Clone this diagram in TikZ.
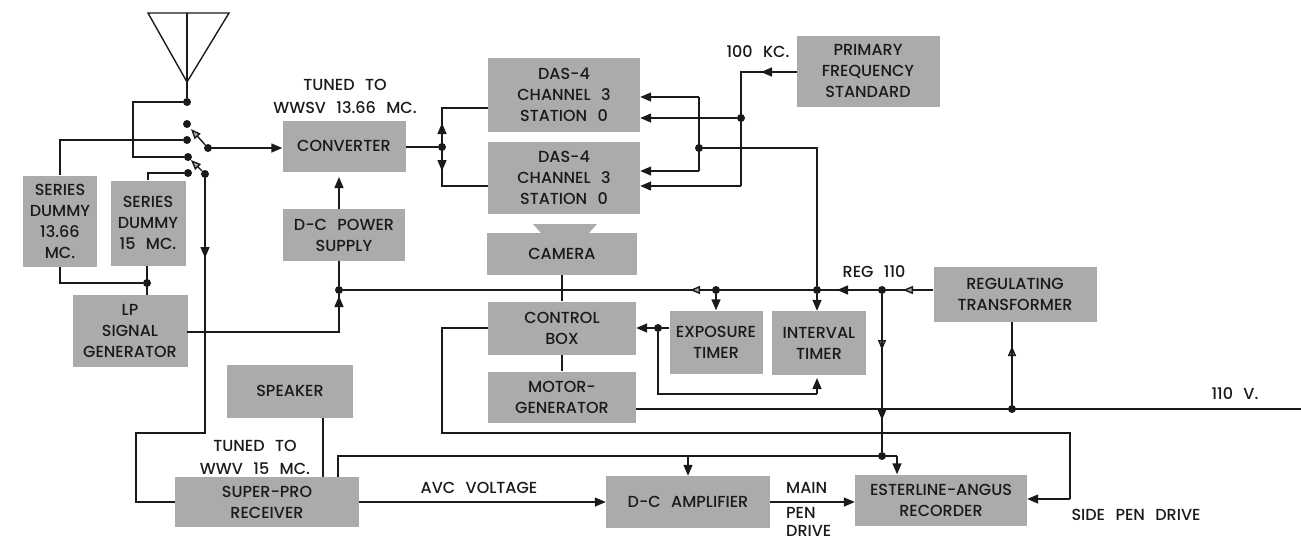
\documentclass[tikz,border=0pt]{standalone}
\usepackage{fontspec}
\setmainfont{Poppins Medium}[WordSpace=2.5]
\usetikzlibrary{arrows.meta,positioning,calc}
\definecolor{boxgray}{HTML}{ABABAB}
\definecolor{inkblack}{HTML}{1A1A1A}
\tikzset{
  blockbox/.style={fill=boxgray,inner sep=0pt,align=center,text=inkblack,font=\fontsize{16}{21}\selectfont},
  lbl/.style={inner sep=0pt,align=center,text=inkblack,font=\fontsize{16}{23}\selectfont},
  jdot/.style={circle,fill=inkblack,inner sep=0pt,minimum size=8pt},
  wire/.style={draw=inkblack,line width=1.4pt},
  tip/.style={wire,-{Triangle[length=11pt,width=9pt]}},
  opentip/.style={wire,-{Triangle[length=10pt,width=8pt,fill=boxgray]}}
}
\begin{document}
\begin{tikzpicture}[x=1pt,y=-1pt]
  \useasboundingbox (0,0) rectangle (1301,542);
  % boxes
  \node[blockbox,minimum width=74pt,minimum height=91pt] (dum13) at (60,221) {SERIES\\DUMMY\\13.66\\MC.};
  \node[blockbox,minimum width=75pt,minimum height=85pt] (dum15) at (148,223) {SERIES\\DUMMY\\15 MC.};
  \node[blockbox,minimum width=115pt,minimum height=72pt] (lpgen) at (130,331) {LP\\SIGNAL\\GENERATOR};
  \node[blockbox,minimum width=123pt,minimum height=51pt] (conv) at (344,146) {CONVERTER};
  \node[blockbox,minimum width=122pt,minimum height=52pt] (power) at (344,235) {D-C POWER\\SUPPLY};
  \node[blockbox,minimum width=152pt,minimum height=74pt] (das1) at (564,95) {DAS-4\\CHANNEL 3\\STATION 0};
  \node[blockbox,minimum width=152pt,minimum height=72pt] (das2) at (564,178) {DAS-4\\CHANNEL 3\\STATION 0};
  \node[blockbox,minimum width=150pt,minimum height=42pt] (cam) at (562,254) {CAMERA};
  \node[blockbox,minimum width=143pt,minimum height=71pt] (std) at (868,71) {PRIMARY\\FREQUENCY\\STANDARD};
  \node[blockbox,minimum width=148pt,minimum height=53pt] (ctrl) at (562,328) {CONTROL\\BOX};
  \node[blockbox,minimum width=148pt,minimum height=51pt] (motor) at (562,397) {MOTOR-\\GENERATOR};
  \node[blockbox,minimum width=93pt,minimum height=63pt] (exptm) at (716,342) {EXPOSURE\\TIMER};
  \node[blockbox,minimum width=94pt,minimum height=64pt] (inttm) at (819,343) {INTERVAL\\TIMER};
  \node[blockbox,minimum width=163pt,minimum height=55pt] (regtr) at (1015,294) {REGULATING\\TRANSFORMER};
  \node[blockbox,minimum width=126pt,minimum height=53pt] (spk) at (290,391) {SPEAKER};
  \node[blockbox,minimum width=184pt,minimum height=50pt] (recv) at (267,502) {SUPER-PRO\\RECEIVER};
  \node[blockbox,minimum width=164pt,minimum height=52pt] (amp) at (688,502) {D-C AMPLIFIER};
  \node[blockbox,minimum width=172pt,minimum height=51pt] (rec) at (941,500) {ESTERLINE-ANGUS\\RECORDER};
  \fill[boxgray] (533,224) -- (597,224) -- (589,233) -- (541,233) -- cycle;
  % labels
  \node[lbl] (tunea) at (345,96) {TUNED TO\\WWSV 13.66 MC.};
  \node[lbl] (tuneb) at (255,457) {TUNED TO\\WWV 15 MC.};
  \node[lbl] (kc) at (758,52) {100 KC.};
  \node[lbl] (reglbl) at (874,272) {REG 110};
  \node[lbl] (avc) at (479,488) {AVC VOLTAGE};
  \node[lbl,anchor=west] (mainlbl) at (786,488) {MAIN};
  \node[lbl,anchor=west,align=left,font=\fontsize{16}{18}\selectfont] (penlbl) at (786,522) {PEN\\DRIVE};
  \node[lbl] (sidelbl) at (1136,515) {SIDE PEN DRIVE};
  \node[lbl] (vlbl) at (1235,394) {110 V.};
  % junctions
  \node[jdot] (jant) at (187,102) {};
  \node[jdot] (swa) at (187,124) {};
  \node[jdot] (swb) at (187,140) {};
  \node[jdot] (swc) at (208,148) {};
  \node[jdot] (swd) at (188,157) {};
  \node[jdot] (swe) at (188,173) {};
  \node[jdot] (swf) at (205,174) {};
  \node[jdot] (jdum) at (147,283) {};
  \node[jdot] (jconv) at (442,147) {};
  \node[jdot] (jpwr) at (339,290) {};
  \node[jdot] (jexp) at (716,290) {};
  \node[jdot] (jint) at (817,290) {};
  \node[jdot] (jreg) at (882,290) {};
  \node[jdot] (jfreq) at (741,118) {};
  \node[jdot] (jdas) at (699,148) {};
  \node[jdot] (jctl) at (658,328) {};
  \node[jdot] (jmot) at (1012,409) {};
  \node[jdot] (jrec) at (882,456) {};
  % bends and free ends
  \coordinate (apex) at (187,82);
  \coordinate (antl) at (148,13);
  \coordinate (antr) at (229,13);
  \coordinate (antm) at (187,13);
  \coordinate (loopa) at (133,102);
  \coordinate (loopb) at (133,157);
  \coordinate (armtipa) at (191,129);
  \coordinate (armtipb) at (191,160);
  \coordinate (downtip) at (205,258);
  \coordinate (rxa) at (205,433);
  \coordinate (rxb) at (136,433);
  \coordinate (rxc) at (136,502);
  \coordinate (lpin) at (187,332);
  \coordinate (pwrup) at (339,296);
  \coordinate (pwrbot) at (339,261);
  \coordinate (pwrtop) at (339,209);
  \coordinate (convtip) at (339,177);
  \coordinate (dasup) at (442,108);
  \coordinate (dasdn) at (442,186);
  \coordinate (uptip) at (442,123);
  \coordinate (dntip) at (442,171);
  \coordinate (stdout) at (797,72);
  \coordinate (stdcor) at (741,72);
  \coordinate (stdtip) at (761,72);
  \coordinate (freqlow) at (741,186);
  \coordinate (dascor) at (817,148);
  \coordinate (dasa) at (699,97);
  \coordinate (dasb) at (699,171);
  \coordinate (tipexp) at (690,290);
  \coordinate (tipint) at (837,290);
  \coordinate (tipreg) at (903,290);
  \coordinate (tmcor) at (658,394);
  \coordinate (tmcorb) at (817,394);
  \coordinate (tmtip) at (817,378);
  \coordinate (ctla) at (442,328);
  \coordinate (ctlb) at (442,433);
  \coordinate (ctlc) at (1070,433);
  \coordinate (ctld) at (1070,499);
  \coordinate (tipv) at (882,350);
  \coordinate (tipw) at (882,420);
  \coordinate (lineend) at (1301,409);
  \coordinate (tipx) at (1012,346);
  \coordinate (spkx) at (323,0);
  \coordinate (avca) at (338,477);
  \coordinate (avcb) at (338,456);
  \coordinate (avcc) at (897,456);
  \coordinate (ampin) at (688,456);
  % antenna and switch
  \draw[wire] (antl) -- (antr) -- (apex) -- cycle;
  \draw[wire] (antm) -- (jant);
  \draw[wire] (jant) -- (loopa) -- (loopb) -- (swd);
  \draw[wire] (dum13.north) |- (swb);
  \draw[wire] (dum15.north) |- (swe);
  \draw[opentip] (swc) -- (armtipa);
  \draw[opentip] (swf) -- (armtipb);
  \draw[tip] (swc) -- (conv.west |- swc);
  \draw[wire] (swf) -- (rxa) -- (rxb) -- (rxc) -- (recv.west |- rxc);
  \draw[tip] (swf) -- (downtip);
  \draw[wire] (dum13.south) |- (jdum);
  \draw[wire] (dum15.south -| jdum) -- (lpgen.north -| jdum);
  % converter and power
  \draw[tip] (pwrtop) -- (convtip);
  \draw[wire] (pwrbot) -- (jpwr);
  \draw[wire] (lpin) -| (jpwr);
  \draw[tip] (jpwr |- lpin) -- (pwrup);
  \draw[wire] (conv.east |- jconv) -- (jconv);
  \draw[wire] (das1.west |- dasup) -- (dasup) -- (dasdn) -- (das2.west |- dasdn);
  \draw[tip] (jconv) -- (uptip);
  \draw[tip] (jconv) -- (dntip);
  % frequency standard feeds
  \draw[wire] (stdout) -- (stdcor) -- (freqlow);
  \draw[tip] (stdout) -- (stdtip);
  \draw[tip] (jfreq) -- (das1.east |- jfreq);
  \draw[tip] (freqlow) -- (das2.east |- freqlow);
  \draw[wire] (jint) -- (dascor) -- (jdas);
  \draw[wire] (dasa) -- (dasb);
  \draw[tip] (dasa) -- (das1.east |- dasa);
  \draw[tip] (dasb) -- (das2.east |- dasb);
  % main supply line
  \draw[wire,line width=1.8pt] (jpwr) -- (regtr.west |- jreg);
  \draw[opentip] (jexp) -- (tipexp);
  \draw[tip] (jreg) -- (tipint);
  \draw[opentip] (regtr.west |- jreg) -- (tipreg);
  \draw[tip] (jexp) -- (exptm.north);
  \draw[tip] (jint) -- (inttm.north -| jint);
  \draw[wire] (cam.south) -- (ctrl.north);
  \draw[wire] (ctrl.south) -- (motor.north);
  % control box and timers
  \draw[tip] (exptm.west |- jctl) -- (ctrl.east |- jctl);
  \draw[wire] (jctl) -- (tmcor) -- (tmcorb);
  \draw[tip] (tmcorb) -- (tmtip);
  \draw[wire] (ctrl.west |- ctla) -- (ctla) -- (ctlb) -- (ctlc) -- (ctld);
  \draw[tip] (ctld) -- (rec.east |- ctld);
  % regulated feed down to recorder
  \draw[wire] (jreg) -- (jrec);
  \draw[opentip] (jreg) -- (tipv);
  \draw[tip] (jreg) -- (tipw);
  \draw[wire,line width=1.8pt] (motor.east |- jmot) -- (lineend);
  \draw[opentip] (jmot) -- (tipx);
  \draw[wire] (jmot) -- (regtr.south -| jmot);
  % receiver and recorder
  \draw[wire] (spkx |- spk.south) -- (spkx |- recv.north);
  \draw[wire] (avca) -- (avcb) -- (avcc);
  \draw[tip] (avcc) -- (rec.north -| avcc);
  \draw[tip] (ampin) -- (amp.north);
  \draw[tip] (recv.east) -- (amp.west);
  \draw[tip] (amp.east) -- (rec.west |- amp.east);
\end{tikzpicture}
\end{document}
